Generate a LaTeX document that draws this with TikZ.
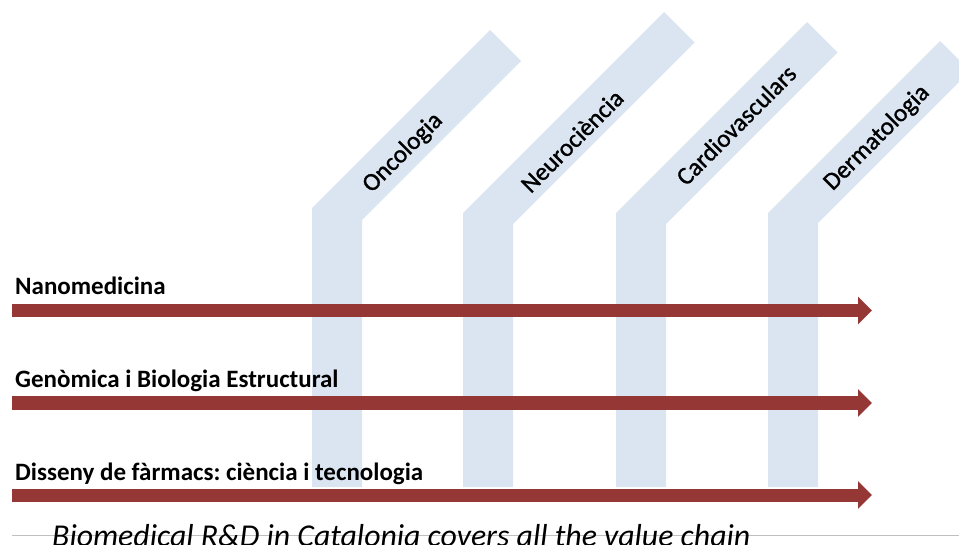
\documentclass[tikz,border=0pt]{standalone}
\usepackage{fontspec}
\setmainfont{Carlito}
\newfontface\stemfont{Carlito}[FakeBold=1.2]
\usetikzlibrary{arrows.meta}
\frenchspacing
\definecolor{stripblue}{HTML}{DBE5F1}
\definecolor{arrowred}{HTML}{953735}
\definecolor{rulegray}{HTML}{BFBFBF}
\tikzset{
  strip/.style={fill=stripblue, draw=none},
  bigarrow/.style={draw=arrowred, line width=13pt, -{Triangle[width=27pt,length=14pt]}, arrowred},
  rowlabel/.style={anchor=base west, inner sep=0pt, font=\fontsize{25}{29}\selectfont\bfseries},
  stemlabel/.style={anchor=center, inner sep=0pt, rotate=45, font=\fontsize{25}{29}\stemfont},
  captext/.style={anchor=base west, inner sep=0pt, font=\fontsize{31.8}{36}\selectfont\itshape}
}
\begin{document}
\begin{tikzpicture}[x=1pt,y=-1pt]
\useasboundingbox (0,0) rectangle (959,545);
\clip (0,0) rectangle (959,545);
% strips
\fill[strip] (312,487) -- (312,208) -- (490,30) -- (521,61) -- (362,220) -- (362,487) -- cycle;
\fill[strip] (463,487) -- (463,213) -- (664,12) -- (694.5,42.5) -- (513,224) -- (513,487) -- cycle;
\fill[strip] (616,487) -- (616,213) -- (807,22) -- (837.5,52.5) -- (666,224) -- (666,487) -- cycle;
\fill[strip] (768,487) -- (768,213) -- (940,41) -- (970,71) -- (818,223) -- (818,487) -- cycle;
% stem labels
\node[stemlabel] (onc) at (403,153) {Oncologia};
\node[stemlabel] (neu) at (572,141) {Neurociència};
\node[stemlabel] (car) at (736,125) {Cardiovasculars};
\node[stemlabel] (der) at (877,138) {Dermatologia};
% arrows
\coordinate (a1s) at (12,310.5);
\coordinate (a1e) at (872,310.5);
\coordinate (a2s) at (12,403);
\coordinate (a2e) at (872,403);
\coordinate (a3s) at (12,495);
\coordinate (a3e) at (872,495);
\draw[bigarrow] (a1s) -- (a1e);
\draw[bigarrow] (a2s) -- (a2e);
\draw[bigarrow] (a3s) -- (a3e);
% row labels
\node[rowlabel] (nano) at (15,295) {Nanomedicina};
\node[rowlabel] (geno) at (15,388) {Genòmica i Biologia Estructural};
\node[rowlabel] (diss) at (15,480) {Disseny de fàrmacs: ciència i tecnologia};
% caption
\coordinate (rl) at (12,535);
\coordinate (rr) at (959,535);
\draw[rulegray, line width=1pt] (rl) -- (rr);
\node[captext] (cap) at (52,546) {Biomedical R\&D in Catalonia covers all the value chain};
\end{tikzpicture}
\end{document}
